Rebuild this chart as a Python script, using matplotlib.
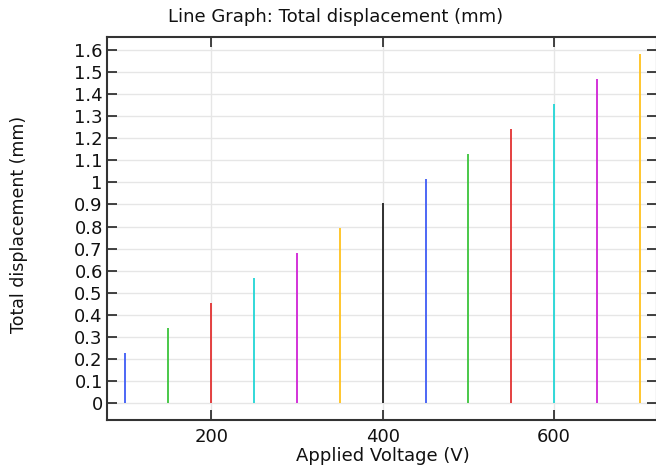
import matplotlib
matplotlib.use("Agg")
import matplotlib.pyplot as plt

plt.rcParams["font.family"] = ["DejaVu Sans"]

voltages = [100, 150, 200, 250, 300, 350, 400, 450, 500, 550, 600, 650, 700]
displacements = [0.225, 0.34, 0.452, 0.566, 0.678, 0.792, 0.906, 1.017, 1.130, 1.243, 1.355, 1.468, 1.582]
line_colors = ["#3f5cf5", "#3cc43c", "#e23232", "#22d6d6", "#d022d6", "#ffc21e", "#202020"]
y_ticks = [0, 0.1, 0.2, 0.3, 0.4, 0.5, 0.6, 0.7, 0.8, 0.9, 1.0, 1.1, 1.2, 1.3, 1.4, 1.5, 1.6]
y_tick_labels = ["0", "0.1", "0.2", "0.3", "0.4", "0.5", "0.6", "0.7", "0.8", "0.9", "1",
                 "1.1", "1.2", "1.3", "1.4", "1.5", "1.6"]
x_ticks = [200, 400, 600]

W, H = 656, 465
fig = plt.figure(figsize=(W / 100, H / 100), dpi=100)
ax = fig.add_axes([107 / W, 1 - 420 / H, (657 - 107) / W, (420 - 37) / H])

for i, (v, d) in enumerate(zip(voltages, displacements)):
    ax.plot([v, v], [0, d], color=line_colors[i % len(line_colors)], lw=1.3, solid_capstyle="butt", zorder=3)

ax.set_xlim(78.5, 720)
ax.set_ylim(-0.077, 1.659)
ax.set_xticks(x_ticks)
ax.set_yticks(y_ticks)
ax.set_yticklabels(y_tick_labels)
ax.grid(True, color="#e6e6e6", lw=1.0, zorder=0)
ax.tick_params(direction="in", length=7, width=1.2, color="#222222", labelsize=13,
               top=True, right=True, labelcolor="#111111")
ax.tick_params(axis="x", pad=6)
ax.tick_params(axis="y", pad=3)
for s in ax.spines.values():
    s.set_linewidth(1.5)
    s.set_color("#333333")

fig.text(336 / W, 1 - 17 / H, "Line Graph: Total displacement (mm)", ha="center", va="center",
         fontsize=13, color="#111111")
fig.text(382.5 / W, 1 - 456 / H, "Applied Voltage (V)", ha="center", va="center",
         fontsize=13, color="#111111")
fig.text(19 / W, 1 - 224 / H, "Total displacement (mm)", ha="center", va="center",
         rotation=90, fontsize=12.5, color="#111111")

fig.savefig("out.png", dpi=100)
